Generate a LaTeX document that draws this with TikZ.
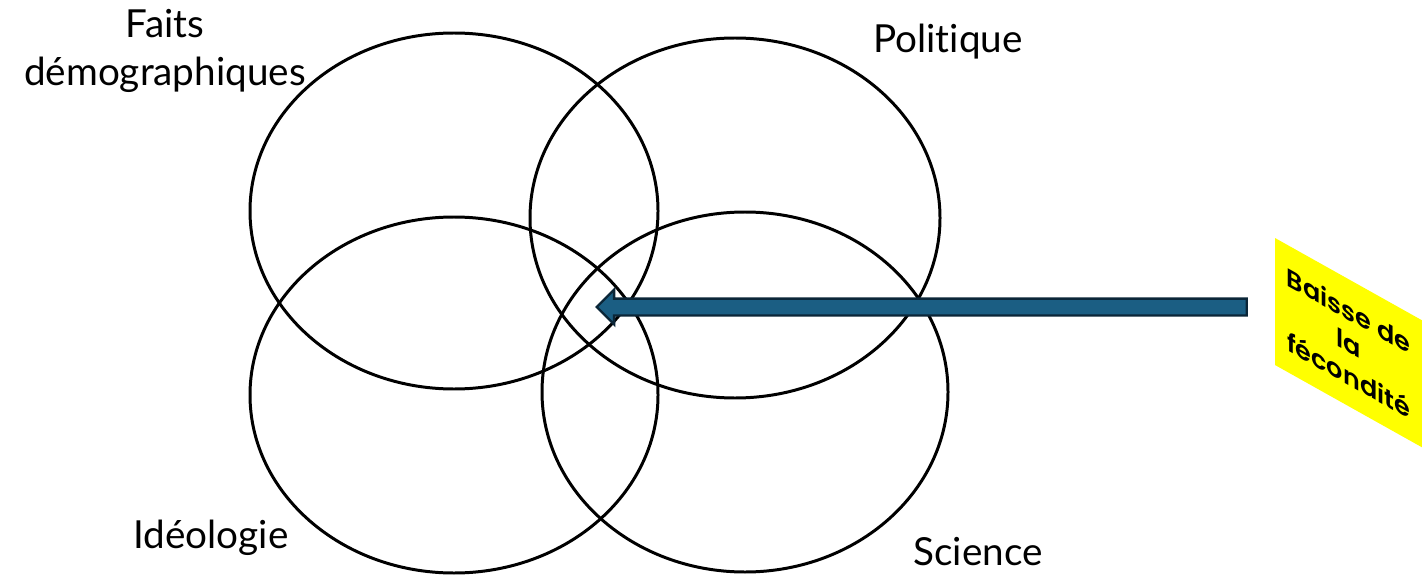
\documentclass[tikz,border=0pt]{standalone}
\usepackage{fontspec}
\setmainfont{Lato}[Ligatures=NoCommon]
\newfontfamily\tagfont{Poppins SemiBold}
\usepackage{tikz}
\usetikzlibrary{shapes,arrows}
\tikzstyle{venn} = [ellipse, draw, line width=1.7pt, inner sep=0pt]
\tikzstyle{setlabel} = [font=\fontsize{22}{27}\selectfont, align=center]
\tikzstyle{bigarrow} = [single arrow, draw=barrowline, fill=barrowfill, line width=1.4pt, inner sep=0pt, text height=0.29cm, text depth=0pt, single arrow head extend=0.18cm, shape border rotate=180]
\tikzstyle{tag} = [fill=byellow, inner sep=0pt, align=center, font=\tagfont\fontsize{14.5}{18.5}\selectfont, transform shape]
\definecolor{barrowfill}{HTML}{1B5E83}
\definecolor{barrowline}{HTML}{0B2638}
\definecolor{byellow}{HTML}{FFFF00}

\begin{document}
\begin{tikzpicture}
\useasboundingbox (0, 0) rectangle (28.44, 11.48);

%% the four sets
\node[venn, minimum width=8.16cm, minimum height=7.12cm] at (9.08, 7.26) (demo) {};
\node[venn, minimum width=8.2cm, minimum height=7.2cm] at (14.7, 7.12) (poli) {};
\node[venn, minimum width=8.16cm, minimum height=7.12cm] at (9.08, 3.58) (ideo) {};
\node[venn, minimum width=8.12cm, minimum height=7.2cm] at (14.9, 3.64) (scie) {};

\node[setlabel] at (3.3, 10.46) (demolabel) {Faits\\démographiques};
\node[setlabel] at (18.96, 10.64) (polilabel) {Politique};
\node[setlabel] at (4.22, 0.72) (ideolabel) {Idéologie};
\node[setlabel] at (19.56, 0.44) (scielabel) {Science};

%% the tag
\begin{scope}[shift={(25.5, 5.45)}, yslant=-0.56]
\node[tag, minimum width=2.94cm, minimum height=2.54cm] at (1.47, 0) (fecond) {Baisse de\\la\\fécondité};
\end{scope}

%% the arrow
\coordinate (tip) at (11.9, 5.34);
\node[bigarrow, minimum height=13cm, anchor=tip] at (tip) (fecondarrow) {};

\end{tikzpicture}
\end{document}
